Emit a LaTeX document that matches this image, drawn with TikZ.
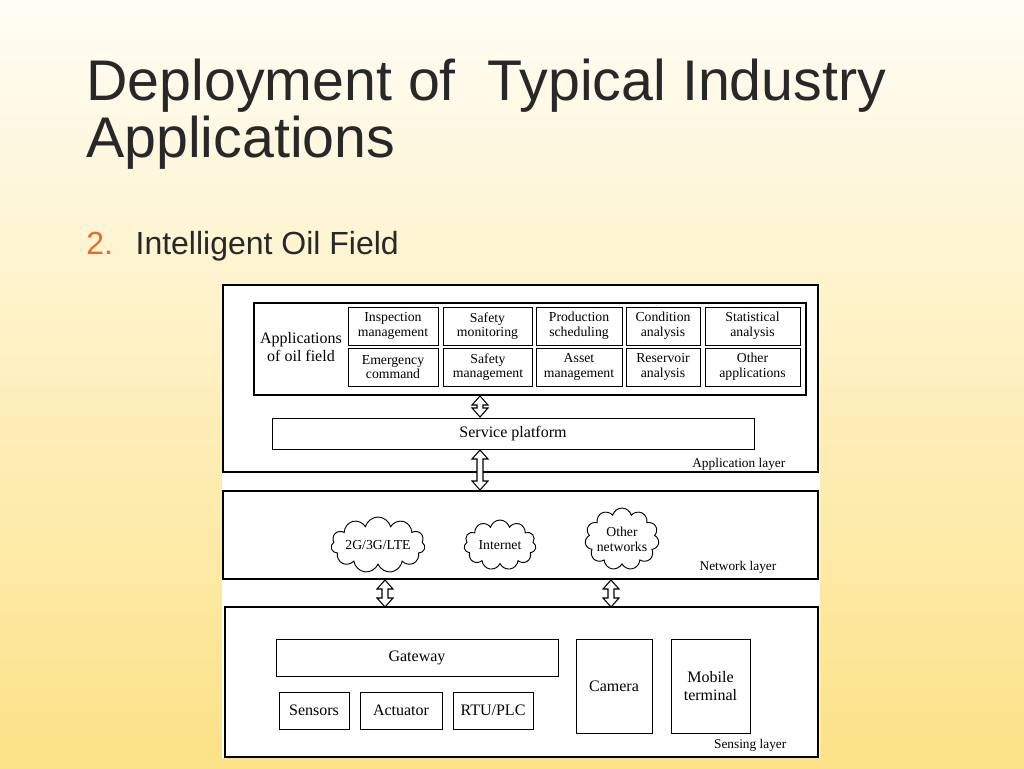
\documentclass[tikz,border=0pt]{standalone}
\usepackage{fontspec}
\setmainfont{Liberation Serif}
\newfontfamily\arial{Liberation Sans}
\usetikzlibrary{shapes.symbols}
\definecolor{bgtop}{RGB}{255,253,245}
\definecolor{bgbot}{RGB}{252,226,135}
\definecolor{numor}{RGB}{230,110,40}
\definecolor{ttl}{RGB}{40,40,40}
\newcommand{\dblarr}[3]{% x, y1, y2
  \draw[fill=white,line width=0.8pt] (#1-3,#2+9) -- (#1-8,#2+9) -- (#1,#2) -- (#1+8,#2+9) -- (#1+3,#2+9) -- (#1+3,#3-9) -- (#1+8,#3-9) -- (#1,#3) -- (#1-8,#3-9) -- (#1-3,#3-9) -- cycle;}
\begin{document}
\begin{tikzpicture}[x=0.75pt,y=-0.75pt,
  bx/.style={draw,line width=0.6pt,align=center,inner sep=0pt,font=\fontsize{10.3}{11}\selectfont},
  bxl/.style={bx,font=\fontsize{12}{13.5}\selectfont},
  lay/.style={draw,line width=0.8pt},
  cl/.style={cloud,draw,line width=0.7pt,cloud puffs=11,cloud ignores aspect,inner sep=0pt},
  clt/.style={align=center,font=\fontsize{10.3}{11}\selectfont},
  lbl/.style={anchor=east,font=\fontsize{10}{11}\selectfont}]
\useasboundingbox (0,0) rectangle (1024,768);
\shade[top color=bgtop,bottom color=bgbot,middle color=bgbot!50!bgtop] (0,0) rectangle (1024,768);
\node[anchor=west,font=\arial\fontsize{43}{43}\selectfont,text=ttl,align=left,inner sep=0pt] (title) at (86,114) {Deployment of\ \ Typical Industry\\Applications};
\node[anchor=west,font=\arial\fontsize{24}{28}\selectfont,text=ttl,inner sep=0pt] (sub) at (86,246) {\textcolor{numor}{2.}\hspace{17pt}Intelligent Oil Field};
\fill[white] (222,284) rectangle (820,758);
% layers
\draw[lay] (223,285) rectangle (818,472);
\node[lbl] (al) at (790,464) {Application layer};
\draw[lay] (223,491) rectangle (818,579);
\node[lbl] (nl) at (781,567) {Network layer};
\draw[lay] (225,607) rectangle (818,757);
\node[lbl] (sl) at (791,745) {Sensing layer};
% apps
\draw[lay] (254,303) rectangle (806,395);
\node[font=\fontsize{12}{14}\selectfont,align=center] (aof) at (301,347) {Applications\\of oil field};
\node[bx,minimum width=90*0.75pt,minimum height=38*0.75pt] (a1) at (393,326) {Inspection\\management};
\node[bx,minimum width=89*0.75pt,minimum height=38*0.75pt] (a2) at (487.5,326) {Safety\\monitoring};
\node[bx,minimum width=86*0.75pt,minimum height=38*0.75pt] (a3) at (579,326) {Production\\scheduling};
\node[bx,minimum width=74*0.75pt,minimum height=38*0.75pt] (a4) at (663,326) {Condition\\analysis};
\node[bx,minimum width=95*0.75pt,minimum height=38*0.75pt] (a5) at (752.5,326) {Statistical\\analysis};
\node[bx,minimum width=90*0.75pt,minimum height=38*0.75pt] (b1) at (393,367) {Emergency\\command};
\node[bx,minimum width=89*0.75pt,minimum height=38*0.75pt] (b2) at (488,367) {Safety\\management};
\node[bx,minimum width=86*0.75pt,minimum height=38*0.75pt] (b3) at (579,367) {Asset\\management};
\node[bx,minimum width=74*0.75pt,minimum height=38*0.75pt] (b4) at (663,367) {Reservoir\\analysis};
\node[bx,minimum width=95*0.75pt,minimum height=38*0.75pt] (b5) at (752.5,367) {Other\\applications};
\node[bxl,minimum width=482*0.75pt,minimum height=31*0.75pt] (sp) at (513,433.5) {Service platform};
\dblarr{480}{396}{417}
\dblarr{480}{450}{490}
% clouds
\node[cl,minimum width=94*0.75pt,minimum height=56*0.75pt] (c1) at (378,545) {};
\node[clt] (c1t) at (c1) {2G/3G/LTE};
\node[cl,minimum width=72*0.75pt,minimum height=50*0.75pt] (c2) at (500,545) {};
\node[clt] (c2t) at (c2) {Internet};
\node[cl,minimum width=74*0.75pt,minimum height=62*0.75pt] (c3) at (622,539) {};
\node[clt] (c3t) at (c3) {Other\\networks};
\dblarr{385}{580}{607}
\dblarr{611}{580}{607}
% sensing
\node[bxl,minimum width=282*0.75pt,minimum height=37*0.75pt] (gw) at (417,657.5) {Gateway};
\node[bxl,minimum width=70*0.75pt,minimum height=37*0.75pt] (s1) at (314,710.5) {Sensors};
\node[bxl,minimum width=82*0.75pt,minimum height=37*0.75pt] (s2) at (401,710.5) {Actuator};
\node[bxl,minimum width=80*0.75pt,minimum height=37*0.75pt] (s3) at (493,710.5) {RTU/PLC};
\node[bxl,minimum width=76*0.75pt,minimum height=94*0.75pt] (cam) at (614,686) {Camera};
\node[bxl,minimum width=79*0.75pt,minimum height=94*0.75pt] (mob) at (710.5,686) {Mobile\\terminal};
\end{tikzpicture}
\end{document}
